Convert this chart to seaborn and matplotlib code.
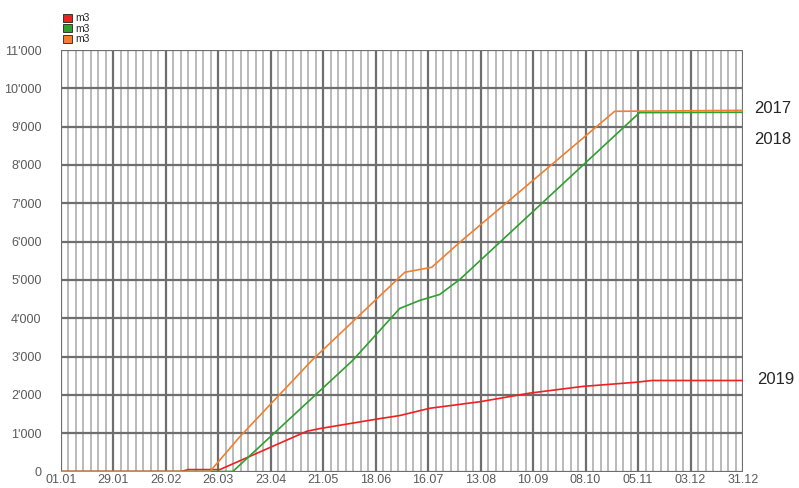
import numpy as np
import pandas as pd
import seaborn as sns
import matplotlib.pyplot as plt
from matplotlib.patches import Patch

# cumulative m3 per day of year
days_2017 = [0, 79.5, 95.5, 133.9, 183.5, 197.9, 212.8, 295.5, 364]
vals_2017 = [0, 0, 910, 2900, 5200, 5330, 5980, 9400, 9425]

days_2018 = [0, 91.7, 155.7, 180.8, 191.5, 202.1, 212.8, 308.8, 364]
vals_2018 = [0, 0, 2900, 4256, 4465, 4620, 5010, 9366, 9375]

days_2019 = [0, 64, 68, 84.8, 131.2, 138.1, 170.1, 180.8, 196.8, 223.5, 250.1, 278.4, 307.2, 315.2, 364]
vals_2019 = [0, 0, 50, 50, 1050, 1120, 1380, 1460, 1650, 1820, 2045, 2220, 2330, 2375, 2375]

x_ticks = [0, 28, 56, 84, 112, 140, 168, 196, 224, 252, 280, 308, 336, 364]
x_labels = ['01.01', '29.01', '26.02', '26.03', '23.04', '21.05', '18.06',
            '16.07', '13.08', '10.09', '08.10', '05.11', '03.12', '31.12']
y_ticks = list(range(0, 12000, 1000))
y_labels = ['0', "1'000", "2'000", "3'000", "4'000", "5'000", "6'000",
            "7'000", "8'000", "9'000", "10'000", "11'000"]

colors = {'2019': '#ee2020', '2018': '#2ea02e', '2017': '#f08030'}

df = pd.concat([
    pd.DataFrame({'day': days_2019, 'm3': vals_2019, 'year': '2019'}),
    pd.DataFrame({'day': days_2018, 'm3': vals_2018, 'year': '2018'}),
    pd.DataFrame({'day': days_2017, 'm3': vals_2017, 'year': '2017'}),
])

sns.set_style('white')
plt.rcParams['font.family'] = ['Liberation Sans', 'DejaVu Sans']

fig = plt.figure(figsize=(7.99, 4.88), dpi=100)
ax = fig.add_axes([61 / 799, 16.5 / 488, 682 / 799, 421.5 / 488])

# grid: minor every 4 days, major every 28 days / 1000 m3
for d in range(4, 364, 4):
    if d % 28:
        ax.axvline(d, color='#b4b4b4', lw=1.3, zorder=0)
for d in x_ticks:
    ax.axvline(d, color='#6e6e6e', lw=1.6, zorder=1)
for v in y_ticks:
    ax.axhline(v, color='#6e6e6e', lw=1.6, zorder=1)

sns.lineplot(data=df, x='day', y='m3', hue='year', palette=colors,
             estimator=None, sort=False, legend=False, lw=1.2, ax=ax, zorder=3)

ax.set_xlim(0, 364)
ax.set_ylim(0, 11000)
ax.set_xticks(x_ticks)
ax.set_xticklabels(x_labels)
ax.set_yticks(y_ticks)
ax.set_yticklabels(y_labels)
ax.tick_params(axis='both', length=0, labelsize=9, colors='#5a5a5a')
ax.tick_params(axis='x', pad=2)
ax.tick_params(axis='y', pad=14)
ax.set_xlabel('')
ax.set_ylabel('')
for s in ax.spines.values():
    s.set_visible(False)

# year labels on the right
ax.text(1.017, 9420 / 11000 + 0.005, '2017', transform=ax.transAxes, fontsize=12, va='center')
ax.text(1.017, 8660 / 11000, '2018', transform=ax.transAxes, fontsize=12, va='center')
ax.text(1.020, 2400 / 11000, '2019', transform=ax.transAxes, fontsize=12, va='center')

handles = [Patch(facecolor=colors[y], edgecolor='#222222', lw=0.6) for y in ['2019', '2018', '2017']]
fig.legend(handles, ['m3', 'm3', 'm3'], loc='upper left', bbox_to_anchor=(58 / 799, 1 - 8 / 488),
           frameon=False, fontsize=7.5, handlelength=0.8, handleheight=0.8,
           handletextpad=0.4, labelspacing=0.05, borderpad=0)

fig.savefig('out.png', dpi=100)
